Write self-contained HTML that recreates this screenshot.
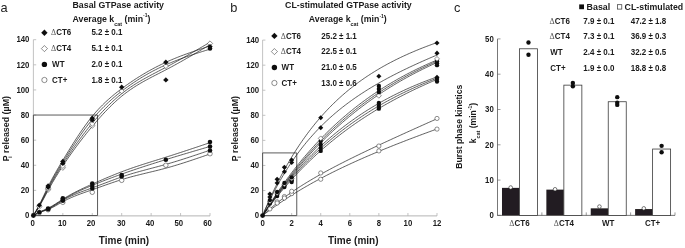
<!DOCTYPE html><html><head><meta charset="utf-8"><style>html,body{margin:0;padding:0;background:#fff;width:685px;height:248px;overflow:hidden}svg{display:block;will-change:transform}text{font-family:'Liberation Sans',sans-serif;}</style></head><body>
<svg width="685" height="248" viewBox="0 0 685 248">
<defs><filter id="bl" x="0" y="0" width="685" height="248" filterUnits="userSpaceOnUse"><feGaussianBlur stdDeviation="0.4"/></filter></defs><g filter="url(#bl)"><rect width="685" height="248" fill="#fff"/>
<text transform="translate(0.50,11.70) scale(1,1.02)" font-size="12.8" font-weight="normal" text-anchor="start" fill="#222">a</text>
<text transform="translate(72.50,7.60) scale(1,1.045)" font-size="8.8" font-weight="bold" text-anchor="start" fill="#1a1a1a">Basal GTPase activity</text>
<text transform="translate(72.50,21.50) scale(1,1.045)" font-size="8.8" font-weight="bold" text-anchor="start" fill="#1a1a1a">Average k<tspan font-size="5.4" dy="4.1">cat</tspan><tspan dy="-4.1"> (min</tspan><tspan font-size="5.0" dy="-3.9">-1</tspan><tspan dy="3.9">)</tspan></text>
<path d="M44.40,29.62L47.58,32.80L44.40,35.98L41.22,32.80Z" fill="#111"/>
<text transform="translate(51.00,35.40) scale(1,1.045)" font-size="8.0" font-weight="bold" text-anchor="start" fill="#1a1a1a"><tspan font-family="Liberation Serif" font-weight="normal" fill="#555">Δ</tspan>CT6</text>
<text transform="translate(91.40,35.40) scale(1,1.045)" font-size="8.0" font-weight="bold" text-anchor="start" fill="#1a1a1a">5.2 ± 0.1</text>
<path d="M44.40,45.53L47.47,48.60L44.40,51.67L41.33,48.60Z" fill="#fff" stroke="#333" stroke-width="0.55"/>
<text transform="translate(51.00,51.20) scale(1,1.045)" font-size="8.0" font-weight="bold" text-anchor="start" fill="#1a1a1a"><tspan font-family="Liberation Serif" font-weight="normal" fill="#555">Δ</tspan>CT4</text>
<text transform="translate(91.40,51.20) scale(1,1.045)" font-size="8.0" font-weight="bold" text-anchor="start" fill="#1a1a1a">5.1 ± 0.1</text>
<circle cx="44.40" cy="64.40" r="2.70" fill="#111"/>
<text transform="translate(52.10,67.00) scale(1,1.045)" font-size="8.0" font-weight="bold" text-anchor="start" fill="#1a1a1a">WT</text>
<text transform="translate(91.40,67.00) scale(1,1.045)" font-size="8.0" font-weight="bold" text-anchor="start" fill="#1a1a1a">2.0 ± 0.1</text>
<circle cx="44.40" cy="80.00" r="2.65" fill="#fff" stroke="#333" stroke-width="0.55"/>
<text transform="translate(52.10,82.60) scale(1,1.045)" font-size="8.0" font-weight="bold" text-anchor="start" fill="#1a1a1a">CT+</text>
<text transform="translate(91.40,82.60) scale(1,1.045)" font-size="8.0" font-weight="bold" text-anchor="start" fill="#1a1a1a">1.8 ± 0.1</text>
<path d="M33.4,39.70V215.5" fill="none" stroke="#b4b4b4" stroke-width="0.8"/>
<path d="M33.1,215.9H210.0" fill="none" stroke="#b4b4b4" stroke-width="1.0"/>
<path d="M33.4,215.50h2.8" stroke="#b4b4b4" stroke-width="0.8"/>
<text transform="translate(29.40,218.25) scale(1,1.045)" font-size="7.8" font-weight="bold" text-anchor="end" fill="#1a1a1a">0</text>
<path d="M33.4,190.39h2.8" stroke="#b4b4b4" stroke-width="0.8"/>
<text transform="translate(29.40,193.14) scale(1,1.045)" font-size="7.8" font-weight="bold" text-anchor="end" fill="#1a1a1a">20</text>
<path d="M33.4,165.27h2.8" stroke="#b4b4b4" stroke-width="0.8"/>
<text transform="translate(29.40,168.02) scale(1,1.045)" font-size="7.8" font-weight="bold" text-anchor="end" fill="#1a1a1a">40</text>
<path d="M33.4,140.16h2.8" stroke="#b4b4b4" stroke-width="0.8"/>
<text transform="translate(29.40,142.91) scale(1,1.045)" font-size="7.8" font-weight="bold" text-anchor="end" fill="#1a1a1a">60</text>
<path d="M33.4,115.04h2.8" stroke="#b4b4b4" stroke-width="0.8"/>
<text transform="translate(29.40,117.79) scale(1,1.045)" font-size="7.8" font-weight="bold" text-anchor="end" fill="#1a1a1a">80</text>
<path d="M33.4,89.93h2.8" stroke="#b4b4b4" stroke-width="0.8"/>
<text transform="translate(29.40,92.68) scale(1,1.045)" font-size="7.8" font-weight="bold" text-anchor="end" fill="#1a1a1a">100</text>
<path d="M33.4,64.82h2.8" stroke="#b4b4b4" stroke-width="0.8"/>
<text transform="translate(29.40,67.57) scale(1,1.045)" font-size="7.8" font-weight="bold" text-anchor="end" fill="#1a1a1a">120</text>
<path d="M33.4,39.70h2.8" stroke="#b4b4b4" stroke-width="0.8"/>
<text transform="translate(29.40,42.45) scale(1,1.045)" font-size="7.8" font-weight="bold" text-anchor="end" fill="#1a1a1a">140</text>
<path d="M33.40,215.9v-2.9" stroke="#b4b4b4" stroke-width="0.8"/>
<text transform="translate(32.60,226.20) scale(1,1.045)" font-size="7.8" font-weight="bold" text-anchor="middle" fill="#1a1a1a">0</text>
<path d="M62.83,215.9v-2.9" stroke="#b4b4b4" stroke-width="0.8"/>
<text transform="translate(62.30,226.20) scale(1,1.045)" font-size="7.8" font-weight="bold" text-anchor="middle" fill="#1a1a1a">10</text>
<path d="M92.27,215.9v-2.9" stroke="#b4b4b4" stroke-width="0.8"/>
<text transform="translate(91.00,226.20) scale(1,1.045)" font-size="7.8" font-weight="bold" text-anchor="middle" fill="#1a1a1a">20</text>
<path d="M121.70,215.9v-2.9" stroke="#b4b4b4" stroke-width="0.8"/>
<text transform="translate(121.30,226.20) scale(1,1.045)" font-size="7.8" font-weight="bold" text-anchor="middle" fill="#1a1a1a">30</text>
<path d="M151.13,215.9v-2.9" stroke="#b4b4b4" stroke-width="0.8"/>
<text transform="translate(150.00,226.20) scale(1,1.045)" font-size="7.8" font-weight="bold" text-anchor="middle" fill="#1a1a1a">40</text>
<path d="M180.57,215.9v-2.9" stroke="#b4b4b4" stroke-width="0.8"/>
<text transform="translate(178.80,226.20) scale(1,1.045)" font-size="7.8" font-weight="bold" text-anchor="middle" fill="#1a1a1a">50</text>
<path d="M210.00,215.9v-2.9" stroke="#b4b4b4" stroke-width="0.8"/>
<text transform="translate(207.50,226.20) scale(1,1.045)" font-size="7.8" font-weight="bold" text-anchor="middle" fill="#1a1a1a">60</text>
<text transform="translate(124.00,244.40) scale(1,1.0)" font-size="10" font-weight="bold" text-anchor="middle" fill="#1a1a1a">Time (min)</text>
<text transform="translate(8.60,161.30) rotate(-90) scale(1,1.045)" font-size="8.9" font-weight="bold" text-anchor="start" fill="#1a1a1a">P<tspan font-size="5.6" dx="-2.6" dy="3.0">i</tspan><tspan dx="1.0" dy="-3.0"> released (µM)</tspan></text>
<path d="M33.4,215.5V115.04H97.56V215.5Z" fill="none" stroke="#484848" stroke-width="0.9"/>
<polyline points="33.40,215.50 34.87,213.33 36.34,211.12 37.81,208.84 39.29,206.46 40.76,203.94 42.23,201.31 43.70,198.61 45.17,195.86 46.64,193.11 48.12,190.39 49.59,187.71 51.06,185.10 52.53,182.54 54.00,180.03 55.47,177.57 56.95,175.16 58.42,172.79 59.89,170.46 61.36,168.16 62.83,165.90 64.30,163.67 65.78,161.47 67.25,159.30 68.72,157.16 70.19,155.05 71.66,152.96 73.13,150.90 74.61,148.87 76.08,146.87 77.55,144.89 79.02,142.93 80.49,141.00 81.97,139.09 83.44,137.21 84.91,135.35 86.38,133.50 87.85,131.68 89.32,129.89 90.79,128.11 92.27,126.35 93.74,124.60 95.21,122.88 96.68,121.18 98.15,119.50 99.62,117.84 101.10,116.21 102.57,114.59 104.04,113.01 105.51,111.45 106.98,109.91 108.46,108.40 109.93,106.92 111.40,105.47 112.87,104.05 114.34,102.66 115.81,101.31 117.28,99.98 118.76,98.69 120.23,97.43 121.70,96.21 123.17,95.02 124.64,93.87 126.11,92.75 127.59,91.66 129.06,90.61 130.53,89.58 132.00,88.58 133.47,87.60 134.94,86.65 136.42,85.72 137.89,84.82 139.36,83.93 140.83,83.07 142.30,82.22 143.78,81.39 145.25,80.57 146.72,79.76 148.19,78.97 149.66,78.19 151.13,77.41 152.60,76.64 154.08,75.88 155.55,75.13 157.02,74.37 158.49,73.62 159.96,72.87 161.44,72.12 162.91,71.36 164.38,70.60 165.85,69.84 167.32,69.07 168.79,68.29 170.26,67.50 171.74,66.71 173.21,65.92 174.68,65.11 176.15,64.31 177.62,63.49 179.09,62.67 180.57,61.85 182.04,61.02 183.51,60.19 184.98,59.35 186.45,58.51 187.93,57.67 189.40,56.82 190.87,55.97 192.34,55.12 193.81,54.26 195.28,53.40 196.75,52.54 198.23,51.68 199.70,50.81 201.17,49.95 202.64,49.08 204.11,48.21 205.59,47.34 207.06,46.47 208.53,45.60 210.00,44.72" fill="none" stroke="#1a1a1a" stroke-width="0.7"/>
<polyline points="33.40,215.50 34.87,213.21 36.34,210.88 37.81,208.47 39.29,205.96 40.76,203.31 42.23,200.54 43.70,197.71 45.17,194.84 46.64,191.96 48.12,189.13 49.59,186.36 51.06,183.67 52.53,181.04 54.00,178.46 55.47,175.95 56.95,173.48 58.42,171.06 59.89,168.68 61.36,166.33 62.83,164.02 64.30,161.73 65.78,159.46 67.25,157.22 68.72,155.01 70.19,152.82 71.66,150.66 73.13,148.53 74.61,146.42 76.08,144.33 77.55,142.28 79.02,140.25 80.49,138.25 81.97,136.27 83.44,134.32 84.91,132.40 86.38,130.51 87.85,128.64 89.32,126.80 90.79,124.99 92.27,123.21 93.74,121.45 95.21,119.72 96.68,118.03 98.15,116.36 99.62,114.72 101.10,113.10 102.57,111.52 104.04,109.97 105.51,108.44 106.98,106.95 108.46,105.49 109.93,104.05 111.40,102.65 112.87,101.28 114.34,99.94 115.81,98.63 117.28,97.35 118.76,96.10 120.23,94.88 121.70,93.70 123.17,92.54 124.64,91.42 126.11,90.33 127.59,89.26 129.06,88.23 130.53,87.21 132.00,86.23 133.47,85.26 134.94,84.32 136.42,83.39 137.89,82.49 139.36,81.61 140.83,80.74 142.30,79.89 143.78,79.05 145.25,78.22 146.72,77.41 148.19,76.60 149.66,75.81 151.13,75.03 152.60,74.25 154.08,73.47 155.55,72.70 157.02,71.94 158.49,71.17 159.96,70.41 161.44,69.64 162.91,68.87 164.38,68.10 165.85,67.33 167.32,66.55 168.79,65.76 170.26,64.97 171.74,64.17 173.21,63.37 174.68,62.56 176.15,61.75 177.62,60.93 179.09,60.11 180.57,59.28 182.04,58.45 183.51,57.62 184.98,56.78 186.45,55.94 187.93,55.10 189.40,54.26 190.87,53.41 192.34,52.56 193.81,51.70 195.28,50.85 196.75,49.99 198.23,49.13 199.70,48.27 201.17,47.41 202.64,46.54 204.11,45.68 205.59,44.81 207.06,43.95 208.53,43.08 210.00,42.21" fill="none" stroke="#1a1a1a" stroke-width="0.7"/>
<polyline points="33.40,215.50 34.87,213.08 36.34,210.63 37.81,208.10 39.29,205.45 40.76,202.67 42.23,199.77 43.70,196.80 45.17,193.80 46.64,190.81 48.12,187.87 49.59,185.02 51.06,182.25 52.53,179.55 54.00,176.92 55.47,174.35 56.95,171.83 58.42,169.36 59.89,166.93 61.36,164.52 62.83,162.13 64.30,159.76 65.78,157.41 67.25,155.07 68.72,152.75 70.19,150.45 71.66,148.17 73.13,145.91 74.61,143.68 76.08,141.48 77.55,139.30 79.02,137.15 80.49,135.04 81.97,132.95 83.44,130.91 84.91,128.90 86.38,126.92 87.85,124.99 89.32,123.09 90.79,121.24 92.27,119.44 93.74,117.68 95.21,115.96 96.68,114.29 98.15,112.66 99.62,111.07 101.10,109.52 102.57,108.01 104.04,106.53 105.51,105.09 106.98,103.69 108.46,102.31 109.93,100.97 111.40,99.66 112.87,98.37 114.34,97.12 115.81,95.88 117.28,94.68 118.76,93.49 120.23,92.33 121.70,91.19 123.17,90.06 124.64,88.96 126.11,87.87 127.59,86.80 129.06,85.75 130.53,84.72 132.00,83.71 133.47,82.71 134.94,81.73 136.42,80.77 137.89,79.82 139.36,78.89 140.83,77.98 142.30,77.08 143.78,76.20 145.25,75.34 146.72,74.49 148.19,73.66 149.66,72.84 151.13,72.04 152.60,71.25 154.08,70.48 155.55,69.72 157.02,68.98 158.49,68.25 159.96,67.54 161.44,66.84 162.91,66.15 164.38,65.48 165.85,64.82 167.32,64.17 168.79,63.53 170.26,62.91 171.74,62.30 173.21,61.70 174.68,61.11 176.15,60.53 177.62,59.97 179.09,59.41 180.57,58.86 182.04,58.32 183.51,57.78 184.98,57.26 186.45,56.74 187.93,56.23 189.40,55.73 190.87,55.23 192.34,54.74 193.81,54.25 195.28,53.77 196.75,53.29 198.23,52.82 199.70,52.35 201.17,51.88 202.64,51.42 204.11,50.96 205.59,50.50 207.06,50.04 208.53,49.58 210.00,49.12" fill="none" stroke="#1a1a1a" stroke-width="0.7"/>
<polyline points="33.40,215.50 34.87,212.92 36.34,210.30 37.81,207.62 39.29,204.83 40.76,201.91 42.23,198.89 43.70,195.82 45.17,192.72 46.64,189.64 48.12,186.62 49.59,183.69 51.06,180.85 52.53,178.08 54.00,175.39 55.47,172.76 56.95,170.19 58.42,167.66 59.89,165.17 61.36,162.70 62.83,160.25 64.30,157.81 65.78,155.38 67.25,152.97 68.72,150.58 70.19,148.20 71.66,145.84 73.13,143.51 74.61,141.20 76.08,138.92 77.55,136.66 79.02,134.45 80.49,132.26 81.97,130.11 83.44,128.00 84.91,125.94 86.38,123.91 87.85,121.94 89.32,120.01 90.79,118.13 92.27,116.30 93.74,114.53 95.21,112.81 96.68,111.14 98.15,109.52 99.62,107.95 101.10,106.42 102.57,104.94 104.04,103.50 105.51,102.09 106.98,100.73 108.46,99.40 109.93,98.10 111.40,96.83 112.87,95.60 114.34,94.39 115.81,93.20 117.28,92.04 118.76,90.90 120.23,89.78 121.70,88.67 123.17,87.59 124.64,86.51 126.11,85.45 127.59,84.41 129.06,83.38 130.53,82.37 132.00,81.37 133.47,80.39 134.94,79.42 136.42,78.46 137.89,77.52 139.36,76.60 140.83,75.69 142.30,74.79 143.78,73.90 145.25,73.04 146.72,72.18 148.19,71.34 149.66,70.51 151.13,69.70 152.60,68.90 154.08,68.11 155.55,67.34 157.02,66.58 158.49,65.84 159.96,65.10 161.44,64.38 162.91,63.68 164.38,62.98 165.85,62.30 167.32,61.64 168.79,60.98 170.26,60.34 171.74,59.71 173.21,59.09 174.68,58.48 176.15,57.88 177.62,57.29 179.09,56.71 180.57,56.14 182.04,55.58 183.51,55.03 184.98,54.48 186.45,53.95 187.93,53.42 189.40,52.89 190.87,52.37 192.34,51.86 193.81,51.35 195.28,50.85 196.75,50.35 198.23,49.85 199.70,49.36 201.17,48.87 202.64,48.39 204.11,47.90 205.59,47.42 207.06,46.94 208.53,46.46 210.00,45.98" fill="none" stroke="#1a1a1a" stroke-width="0.7"/>
<polyline points="33.40,215.50 34.87,214.64 36.34,213.80 37.81,213.00 39.29,212.24 40.76,211.53 42.23,210.87 43.70,210.23 45.17,209.59 46.64,208.92 48.12,208.22 49.59,207.45 51.06,206.63 52.53,205.77 54.00,204.87 55.47,203.94 56.95,202.99 58.42,202.03 59.89,201.07 61.36,200.11 62.83,199.18 64.30,198.26 65.78,197.37 67.25,196.50 68.72,195.66 70.19,194.83 71.66,194.02 73.13,193.23 74.61,192.46 76.08,191.71 77.55,190.96 79.02,190.24 80.49,189.52 81.97,188.82 83.44,188.12 84.91,187.44 86.38,186.76 87.85,186.09 89.32,185.42 90.79,184.76 92.27,184.11 93.74,183.45 95.21,182.80 96.68,182.15 98.15,181.50 99.62,180.86 101.10,180.22 102.57,179.59 104.04,178.95 105.51,178.33 106.98,177.70 108.46,177.08 109.93,176.47 111.40,175.86 112.87,175.26 114.34,174.66 115.81,174.07 117.28,173.49 118.76,172.91 120.23,172.34 121.70,171.78 123.17,171.22 124.64,170.67 126.11,170.13 127.59,169.60 129.06,169.07 130.53,168.55 132.00,168.04 133.47,167.53 134.94,167.03 136.42,166.54 137.89,166.05 139.36,165.56 140.83,165.08 142.30,164.60 143.78,164.13 145.25,163.66 146.72,163.19 148.19,162.73 149.66,162.27 151.13,161.80 152.60,161.34 154.08,160.89 155.55,160.43 157.02,159.97 158.49,159.51 159.96,159.05 161.44,158.59 162.91,158.13 164.38,157.67 165.85,157.21 167.32,156.74 168.79,156.27 170.26,155.81 171.74,155.33 173.21,154.86 174.68,154.39 176.15,153.91 177.62,153.43 179.09,152.95 180.57,152.47 182.04,151.99 183.51,151.51 184.98,151.02 186.45,150.54 187.93,150.05 189.40,149.56 190.87,149.07 192.34,148.59 193.81,148.10 195.28,147.60 196.75,147.11 198.23,146.62 199.70,146.13 201.17,145.63 202.64,145.14 204.11,144.65 205.59,144.15 207.06,143.66 208.53,143.16 210.00,142.67" fill="none" stroke="#1a1a1a" stroke-width="0.7"/>
<polyline points="33.40,215.50 34.87,214.67 36.34,213.86 37.81,213.09 39.29,212.36 40.76,211.70 42.23,211.08 43.70,210.48 45.17,209.88 46.64,209.26 48.12,208.59 49.59,207.87 51.06,207.08 52.53,206.24 54.00,205.37 55.47,204.46 56.95,203.54 58.42,202.60 59.89,201.66 61.36,200.72 62.83,199.80 64.30,198.91 65.78,198.04 67.25,197.19 68.72,196.37 70.19,195.56 71.66,194.78 73.13,194.02 74.61,193.27 76.08,192.54 77.55,191.83 79.02,191.13 80.49,190.45 81.97,189.78 83.44,189.12 84.91,188.47 86.38,187.84 87.85,187.21 89.32,186.59 90.79,185.97 92.27,185.36 93.74,184.76 95.21,184.16 96.68,183.57 98.15,182.98 99.62,182.39 101.10,181.81 102.57,181.23 104.04,180.66 105.51,180.09 106.98,179.53 108.46,178.97 109.93,178.41 111.40,177.86 112.87,177.31 114.34,176.77 115.81,176.23 117.28,175.69 118.76,175.16 120.23,174.63 121.70,174.10 123.17,173.58 124.64,173.06 126.11,172.54 127.59,172.03 129.06,171.52 130.53,171.01 132.00,170.51 133.47,170.01 134.94,169.51 136.42,169.01 137.89,168.52 139.36,168.03 140.83,167.55 142.30,167.06 143.78,166.58 145.25,166.10 146.72,165.62 148.19,165.15 149.66,164.68 151.13,164.21 152.60,163.74 154.08,163.27 155.55,162.81 157.02,162.34 158.49,161.88 159.96,161.42 161.44,160.96 162.91,160.51 164.38,160.05 165.85,159.60 167.32,159.15 168.79,158.70 170.26,158.25 171.74,157.80 173.21,157.35 174.68,156.91 176.15,156.46 177.62,156.02 179.09,155.58 180.57,155.14 182.04,154.70 183.51,154.26 184.98,153.82 186.45,153.38 187.93,152.94 189.40,152.50 190.87,152.07 192.34,151.63 193.81,151.20 195.28,150.76 196.75,150.33 198.23,149.90 199.70,149.46 201.17,149.03 202.64,148.60 204.11,148.16 205.59,147.73 207.06,147.30 208.53,146.87 210.00,146.44" fill="none" stroke="#1a1a1a" stroke-width="0.7"/>
<polyline points="33.40,215.50 34.87,214.70 36.34,213.91 37.81,213.17 39.29,212.49 40.76,211.88 42.23,211.32 43.70,210.80 45.17,210.27 46.64,209.71 48.12,209.10 49.59,208.40 51.06,207.64 52.53,206.82 54.00,205.95 55.47,205.04 56.95,204.11 58.42,203.18 59.89,202.24 61.36,201.32 62.83,200.43 64.30,199.58 65.78,198.76 67.25,197.98 68.72,197.23 70.19,196.51 71.66,195.83 73.13,195.16 74.61,194.52 76.08,193.91 77.55,193.31 79.02,192.73 80.49,192.16 81.97,191.61 83.44,191.06 84.91,190.53 86.38,189.99 87.85,189.47 89.32,188.94 90.79,188.41 92.27,187.87 93.74,187.34 95.21,186.79 96.68,186.24 98.15,185.69 99.62,185.13 101.10,184.57 102.57,184.01 104.04,183.45 105.51,182.89 106.98,182.33 108.46,181.77 109.93,181.21 111.40,180.66 112.87,180.11 114.34,179.57 115.81,179.03 117.28,178.49 118.76,177.97 120.23,177.45 121.70,176.94 123.17,176.44 124.64,175.95 126.11,175.47 127.59,174.99 129.06,174.53 130.53,174.08 132.00,173.64 133.47,173.20 134.94,172.78 136.42,172.36 137.89,171.94 139.36,171.53 140.83,171.13 142.30,170.72 143.78,170.33 145.25,169.93 146.72,169.54 148.19,169.15 149.66,168.76 151.13,168.37 152.60,167.99 154.08,167.60 155.55,167.21 157.02,166.82 158.49,166.42 159.96,166.02 161.44,165.62 162.91,165.22 164.38,164.81 165.85,164.39 167.32,163.97 168.79,163.55 170.26,163.12 171.74,162.68 173.21,162.24 174.68,161.79 176.15,161.35 177.62,160.89 179.09,160.43 180.57,159.97 182.04,159.51 183.51,159.04 184.98,158.56 186.45,158.09 187.93,157.61 189.40,157.13 190.87,156.64 192.34,156.16 193.81,155.67 195.28,155.18 196.75,154.69 198.23,154.19 199.70,153.70 201.17,153.20 202.64,152.70 204.11,152.20 205.59,151.70 207.06,151.20 208.53,150.70 210.00,150.20" fill="none" stroke="#1a1a1a" stroke-width="0.7"/>
<polyline points="33.40,215.50 34.87,214.73 36.34,213.97 37.81,213.26 39.29,212.61 40.76,212.04 42.23,211.51 43.70,211.02 45.17,210.54 46.64,210.03 48.12,209.47 49.59,208.85 51.06,208.17 52.53,207.43 54.00,206.65 55.47,205.84 56.95,205.01 58.42,204.17 59.89,203.33 61.36,202.50 62.83,201.69 64.30,200.91 65.78,200.16 67.25,199.44 68.72,198.74 70.19,198.07 71.66,197.42 73.13,196.79 74.61,196.19 76.08,195.60 77.55,195.02 79.02,194.46 80.49,193.91 81.97,193.38 83.44,192.85 84.91,192.32 86.38,191.81 87.85,191.29 89.32,190.78 90.79,190.27 92.27,189.76 93.74,189.24 95.21,188.72 96.68,188.20 98.15,187.68 99.62,187.15 101.10,186.63 102.57,186.10 104.04,185.58 105.51,185.06 106.98,184.54 108.46,184.02 109.93,183.51 111.40,183.00 112.87,182.49 114.34,182.00 115.81,181.50 117.28,181.02 118.76,180.54 120.23,180.07 121.70,179.60 123.17,179.15 124.64,178.71 126.11,178.28 127.59,177.85 129.06,177.44 130.53,177.03 132.00,176.64 133.47,176.25 134.94,175.86 136.42,175.49 137.89,175.11 139.36,174.75 140.83,174.38 142.30,174.02 143.78,173.66 145.25,173.31 146.72,172.95 148.19,172.60 149.66,172.25 151.13,171.89 152.60,171.54 154.08,171.18 155.55,170.82 157.02,170.46 158.49,170.09 159.96,169.72 161.44,169.34 162.91,168.96 164.38,168.57 165.85,168.17 167.32,167.77 168.79,167.36 170.26,166.94 171.74,166.52 173.21,166.08 174.68,165.65 176.15,165.21 177.62,164.76 179.09,164.30 180.57,163.84 182.04,163.38 183.51,162.91 184.98,162.44 186.45,161.96 187.93,161.48 189.40,161.00 190.87,160.51 192.34,160.02 193.81,159.53 195.28,159.03 196.75,158.53 198.23,158.03 199.70,157.53 201.17,157.02 202.64,156.52 204.11,156.01 205.59,155.50 207.06,154.99 208.53,154.48 210.00,153.97" fill="none" stroke="#1a1a1a" stroke-width="0.7"/>
<path d="M39.29,204.10L41.90,206.71L39.29,209.32L36.68,206.71Z" fill="#fff" stroke="#333" stroke-width="0.55"/>
<path d="M39.29,202.50L41.99,205.20L39.29,207.90L36.59,205.20Z" fill="#111"/>
<path d="M48.12,187.15L50.73,189.76L48.12,192.37L45.51,189.76Z" fill="#fff" stroke="#333" stroke-width="0.55"/>
<path d="M48.12,185.89L50.73,188.50L48.12,191.11L45.51,188.50Z" fill="#fff" stroke="#333" stroke-width="0.55"/>
<path d="M48.12,184.55L50.82,187.25L48.12,189.95L45.42,187.25Z" fill="#111"/>
<path d="M48.12,183.29L50.82,185.99L48.12,188.69L45.42,185.99Z" fill="#111"/>
<path d="M62.83,165.17L65.44,167.78L62.83,170.39L60.22,167.78Z" fill="#fff" stroke="#333" stroke-width="0.55"/>
<path d="M62.83,163.29L65.44,165.90L62.83,168.51L60.22,165.90Z" fill="#fff" stroke="#333" stroke-width="0.55"/>
<path d="M62.83,160.69L65.53,163.39L62.83,166.09L60.13,163.39Z" fill="#111"/>
<path d="M62.83,158.80L65.53,161.50L62.83,164.20L60.13,161.50Z" fill="#111"/>
<path d="M92.27,123.11L94.88,125.72L92.27,128.33L89.66,125.72Z" fill="#fff" stroke="#333" stroke-width="0.55"/>
<path d="M92.27,121.22L94.88,123.83L92.27,126.44L89.66,123.83Z" fill="#fff" stroke="#333" stroke-width="0.55"/>
<path d="M92.27,117.37L94.97,120.07L92.27,122.77L89.57,120.07Z" fill="#111"/>
<path d="M92.27,115.48L94.97,118.18L92.27,120.88L89.57,118.18Z" fill="#111"/>
<path d="M121.70,88.58L124.31,91.19L121.70,93.80L119.09,91.19Z" fill="#fff" stroke="#333" stroke-width="0.55"/>
<path d="M121.70,84.47L124.40,87.17L121.70,89.87L119.00,87.17Z" fill="#111"/>
<path d="M165.85,63.46L168.46,66.07L165.85,68.68L163.24,66.07Z" fill="#fff" stroke="#333" stroke-width="0.55"/>
<path d="M165.85,59.60L168.55,62.30L165.85,65.00L163.15,62.30Z" fill="#111"/>
<path d="M165.85,77.18L168.55,79.88L165.85,82.58L163.15,79.88Z" fill="#111"/>
<path d="M210.00,40.86L212.61,43.47L210.00,46.08L207.39,43.47Z" fill="#fff" stroke="#333" stroke-width="0.55"/>
<path d="M210.00,43.91L212.70,46.61L210.00,49.31L207.30,46.61Z" fill="#111"/>
<circle cx="210.00" cy="48.49" r="2.29" fill="#111"/>
<circle cx="39.29" cy="212.74" r="2.25" fill="#fff" stroke="#333" stroke-width="0.55"/>
<circle cx="39.29" cy="212.24" r="2.29" fill="#111"/>
<circle cx="48.12" cy="209.72" r="2.25" fill="#fff" stroke="#333" stroke-width="0.55"/>
<circle cx="48.12" cy="209.22" r="2.29" fill="#111"/>
<circle cx="48.12" cy="208.59" r="2.29" fill="#111"/>
<circle cx="62.83" cy="202.32" r="2.25" fill="#fff" stroke="#333" stroke-width="0.55"/>
<circle cx="62.83" cy="200.68" r="2.29" fill="#111"/>
<circle cx="62.83" cy="199.43" r="2.29" fill="#111"/>
<circle cx="62.83" cy="198.17" r="2.29" fill="#111"/>
<circle cx="92.27" cy="192.27" r="2.25" fill="#fff" stroke="#333" stroke-width="0.55"/>
<circle cx="92.27" cy="188.50" r="2.29" fill="#111"/>
<circle cx="92.27" cy="185.99" r="2.29" fill="#111"/>
<circle cx="92.27" cy="183.48" r="2.29" fill="#111"/>
<circle cx="121.70" cy="180.34" r="2.25" fill="#fff" stroke="#333" stroke-width="0.55"/>
<circle cx="121.70" cy="176.57" r="2.29" fill="#111"/>
<circle cx="121.70" cy="175.07" r="2.29" fill="#111"/>
<circle cx="165.85" cy="165.27" r="2.25" fill="#fff" stroke="#333" stroke-width="0.55"/>
<circle cx="165.85" cy="159.75" r="2.29" fill="#111"/>
<circle cx="210.00" cy="153.72" r="2.25" fill="#fff" stroke="#333" stroke-width="0.55"/>
<circle cx="210.00" cy="150.45" r="2.29" fill="#111"/>
<circle cx="210.00" cy="146.44" r="2.29" fill="#111"/>
<circle cx="210.00" cy="142.04" r="2.29" fill="#111"/>
<circle cx="33.40" cy="215.50" r="2.42" fill="#111"/>
<text transform="translate(230.20,11.70) scale(1,1.0)" font-size="12.8" font-weight="normal" text-anchor="start" fill="#222">b</text>
<text transform="translate(348.40,7.90) scale(1,1.045)" font-size="8.8" font-weight="bold" text-anchor="middle" fill="#1a1a1a">CL-stimulated GTPase activity</text>
<text transform="translate(347.80,22.10) scale(1,1.045)" font-size="8.8" font-weight="bold" text-anchor="middle" fill="#1a1a1a">Average k<tspan font-size="5.4" dy="4.1">cat</tspan><tspan dy="-4.1"> (min</tspan><tspan font-size="5.0" dy="-3.9">-1</tspan><tspan dy="3.9">)</tspan></text>
<path d="M274.40,32.72L277.58,35.90L274.40,39.08L271.22,35.90Z" fill="#111"/>
<text transform="translate(280.80,38.60) scale(1,1.045)" font-size="8.0" font-weight="bold" text-anchor="start" fill="#1a1a1a"><tspan font-family="Liberation Serif" font-weight="normal" fill="#555">Δ</tspan>CT6</text>
<text transform="translate(321.30,38.60) scale(1,1.045)" font-size="8.0" font-weight="bold" text-anchor="start" fill="#1a1a1a">25.2 ± 1.1</text>
<path d="M274.40,48.53L277.47,51.60L274.40,54.67L271.33,51.60Z" fill="#fff" stroke="#333" stroke-width="0.55"/>
<text transform="translate(280.80,54.30) scale(1,1.045)" font-size="8.0" font-weight="bold" text-anchor="start" fill="#1a1a1a"><tspan font-family="Liberation Serif" font-weight="normal" fill="#555">Δ</tspan>CT4</text>
<text transform="translate(321.30,54.30) scale(1,1.045)" font-size="8.0" font-weight="bold" text-anchor="start" fill="#1a1a1a">22.5 ± 0.1</text>
<circle cx="274.40" cy="67.50" r="2.70" fill="#111"/>
<text transform="translate(281.60,70.20) scale(1,1.045)" font-size="8.0" font-weight="bold" text-anchor="start" fill="#1a1a1a">WT</text>
<text transform="translate(321.30,70.20) scale(1,1.045)" font-size="8.0" font-weight="bold" text-anchor="start" fill="#1a1a1a">21.0 ± 0.5</text>
<circle cx="274.40" cy="83.00" r="2.65" fill="#fff" stroke="#333" stroke-width="0.55"/>
<text transform="translate(281.60,85.70) scale(1,1.045)" font-size="8.0" font-weight="bold" text-anchor="start" fill="#1a1a1a">CT+</text>
<text transform="translate(321.30,85.70) scale(1,1.045)" font-size="8.0" font-weight="bold" text-anchor="start" fill="#1a1a1a">13.0 ± 0.6</text>
<path d="M262.6,40.10V215.6" fill="none" stroke="#b4b4b4" stroke-width="0.8"/>
<path d="M262.3,215.9H437.0" fill="none" stroke="#b4b4b4" stroke-width="1.0"/>
<path d="M262.6,215.60h2.8" stroke="#b4b4b4" stroke-width="0.8"/>
<text transform="translate(259.20,218.35) scale(1,1.045)" font-size="7.8" font-weight="bold" text-anchor="end" fill="#1a1a1a">0</text>
<path d="M262.6,190.53h2.8" stroke="#b4b4b4" stroke-width="0.8"/>
<text transform="translate(259.20,193.28) scale(1,1.045)" font-size="7.8" font-weight="bold" text-anchor="end" fill="#1a1a1a">20</text>
<path d="M262.6,165.46h2.8" stroke="#b4b4b4" stroke-width="0.8"/>
<text transform="translate(259.20,168.21) scale(1,1.045)" font-size="7.8" font-weight="bold" text-anchor="end" fill="#1a1a1a">40</text>
<path d="M262.6,140.38h2.8" stroke="#b4b4b4" stroke-width="0.8"/>
<text transform="translate(259.20,143.13) scale(1,1.045)" font-size="7.8" font-weight="bold" text-anchor="end" fill="#1a1a1a">60</text>
<path d="M262.6,115.31h2.8" stroke="#b4b4b4" stroke-width="0.8"/>
<text transform="translate(259.20,118.06) scale(1,1.045)" font-size="7.8" font-weight="bold" text-anchor="end" fill="#1a1a1a">80</text>
<path d="M262.6,90.24h2.8" stroke="#b4b4b4" stroke-width="0.8"/>
<text transform="translate(259.20,92.99) scale(1,1.045)" font-size="7.8" font-weight="bold" text-anchor="end" fill="#1a1a1a">100</text>
<path d="M262.6,65.17h2.8" stroke="#b4b4b4" stroke-width="0.8"/>
<text transform="translate(259.20,67.92) scale(1,1.045)" font-size="7.8" font-weight="bold" text-anchor="end" fill="#1a1a1a">120</text>
<path d="M262.6,40.10h2.8" stroke="#b4b4b4" stroke-width="0.8"/>
<text transform="translate(259.20,42.85) scale(1,1.045)" font-size="7.8" font-weight="bold" text-anchor="end" fill="#1a1a1a">140</text>
<path d="M262.60,215.9v-2.9" stroke="#b4b4b4" stroke-width="0.8"/>
<text transform="translate(262.60,225.90) scale(1,1.045)" font-size="7.8" font-weight="bold" text-anchor="middle" fill="#1a1a1a">0</text>
<path d="M291.67,215.9v-2.9" stroke="#b4b4b4" stroke-width="0.8"/>
<text transform="translate(291.67,225.90) scale(1,1.045)" font-size="7.8" font-weight="bold" text-anchor="middle" fill="#1a1a1a">2</text>
<path d="M320.73,215.9v-2.9" stroke="#b4b4b4" stroke-width="0.8"/>
<text transform="translate(320.73,225.90) scale(1,1.045)" font-size="7.8" font-weight="bold" text-anchor="middle" fill="#1a1a1a">4</text>
<path d="M349.80,215.9v-2.9" stroke="#b4b4b4" stroke-width="0.8"/>
<text transform="translate(349.80,225.90) scale(1,1.045)" font-size="7.8" font-weight="bold" text-anchor="middle" fill="#1a1a1a">6</text>
<path d="M378.87,215.9v-2.9" stroke="#b4b4b4" stroke-width="0.8"/>
<text transform="translate(378.87,225.90) scale(1,1.045)" font-size="7.8" font-weight="bold" text-anchor="middle" fill="#1a1a1a">8</text>
<path d="M407.93,215.9v-2.9" stroke="#b4b4b4" stroke-width="0.8"/>
<text transform="translate(407.93,225.90) scale(1,1.045)" font-size="7.8" font-weight="bold" text-anchor="middle" fill="#1a1a1a">10</text>
<path d="M437.00,215.9v-2.9" stroke="#b4b4b4" stroke-width="0.8"/>
<text transform="translate(437.00,225.90) scale(1,1.045)" font-size="7.8" font-weight="bold" text-anchor="middle" fill="#1a1a1a">12</text>
<text transform="translate(353.30,244.40) scale(1,1.0)" font-size="10" font-weight="bold" text-anchor="middle" fill="#1a1a1a">Time (min)</text>
<text transform="translate(238.20,161.30) rotate(-90) scale(1,1.045)" font-size="8.9" font-weight="bold" text-anchor="start" fill="#1a1a1a">P<tspan font-size="5.6" dx="-2.6" dy="3.0">i</tspan><tspan dx="1.0" dy="-3.0"> released (µM)</tspan></text>
<path d="M262.6,215.6V152.92H296.75V215.6Z" fill="none" stroke="#484848" stroke-width="0.9"/>
<polyline points="262.60,215.60 264.05,212.11 265.51,208.68 266.96,205.33 268.41,202.03 269.87,198.80 271.32,195.63 272.77,192.53 274.23,189.48 275.68,186.49 277.13,183.56 278.59,180.68 280.04,177.86 281.49,175.10 282.95,172.38 284.40,169.72 285.85,167.11 287.31,164.54 288.76,162.03 290.21,159.56 291.67,157.14 293.12,154.76 294.57,152.43 296.03,150.14 297.48,147.89 298.93,145.69 300.39,143.52 301.84,141.40 303.29,139.32 304.75,137.27 306.20,135.26 307.65,133.29 309.11,131.35 310.56,129.45 312.01,127.58 313.47,125.75 314.92,123.95 316.37,122.18 317.83,120.45 319.28,118.74 320.73,117.07 322.19,115.42 323.64,113.81 325.09,112.22 326.55,110.66 328.00,109.13 329.45,107.62 330.91,106.14 332.36,104.69 333.81,103.26 335.27,101.86 336.72,100.48 338.17,99.12 339.63,97.79 341.08,96.48 342.53,95.19 343.99,93.92 345.44,92.68 346.89,91.45 348.35,90.25 349.80,89.06 351.25,87.90 352.71,86.75 354.16,85.62 355.61,84.51 357.07,83.42 358.52,82.35 359.97,81.29 361.43,80.25 362.88,79.23 364.33,78.22 365.79,77.23 367.24,76.26 368.69,75.30 370.15,74.35 371.60,73.42 373.05,72.50 374.51,71.60 375.96,70.71 377.41,69.83 378.87,68.97 380.32,68.12 381.77,67.28 383.23,66.46 384.68,65.64 386.13,64.84 387.59,64.05 389.04,63.27 390.49,62.50 391.95,61.75 393.40,61.00 394.85,60.26 396.31,59.54 397.76,58.82 399.21,58.11 400.67,57.42 402.12,56.73 403.57,56.05 405.03,55.38 406.48,54.72 407.93,54.07 409.39,53.42 410.84,52.79 412.29,52.16 413.75,51.54 415.20,50.93 416.65,50.32 418.11,49.73 419.56,49.14 421.01,48.55 422.47,47.98 423.92,47.41 425.37,46.85 426.83,46.29 428.28,45.74 429.73,45.20 431.19,44.66 432.64,44.13 434.09,43.60 435.55,43.08 437.00,42.57" fill="none" stroke="#1a1a1a" stroke-width="0.7"/>
<polyline points="262.60,215.60 264.05,212.32 265.51,209.12 266.96,205.99 268.41,202.93 269.87,199.93 271.32,197.00 272.77,194.14 274.23,191.34 275.68,188.60 277.13,185.92 278.59,183.30 280.04,180.73 281.49,178.22 282.95,175.76 284.40,173.35 285.85,171.00 287.31,168.69 288.76,166.43 290.21,164.22 291.67,162.05 293.12,159.93 294.57,157.85 296.03,155.81 297.48,153.81 298.93,151.85 300.39,149.93 301.84,148.05 303.29,146.21 304.75,144.40 306.20,142.62 307.65,140.88 309.11,139.17 310.56,137.50 312.01,135.85 313.47,134.24 314.92,132.66 316.37,131.10 317.83,129.57 319.28,128.07 320.73,126.60 322.19,125.15 323.64,123.72 325.09,122.33 326.55,120.95 328.00,119.60 329.45,118.27 330.91,116.96 332.36,115.68 333.81,114.41 335.27,113.17 336.72,111.94 338.17,110.74 339.63,109.55 341.08,108.38 342.53,107.23 343.99,106.10 345.44,104.98 346.89,103.88 348.35,102.79 349.80,101.72 351.25,100.67 352.71,99.63 354.16,98.61 355.61,97.59 357.07,96.60 358.52,95.61 359.97,94.64 361.43,93.68 362.88,92.74 364.33,91.80 365.79,90.88 367.24,89.96 368.69,89.06 370.15,88.17 371.60,87.29 373.05,86.42 374.51,85.56 375.96,84.71 377.41,83.87 378.87,83.04 380.32,82.21 381.77,81.40 383.23,80.59 384.68,79.79 386.13,79.00 387.59,78.22 389.04,77.45 390.49,76.68 391.95,75.92 393.40,75.16 394.85,74.42 396.31,73.68 397.76,72.94 399.21,72.21 400.67,71.49 402.12,70.78 403.57,70.07 405.03,69.36 406.48,68.66 407.93,67.97 409.39,67.28 410.84,66.60 412.29,65.92 413.75,65.24 415.20,64.58 416.65,63.91 418.11,63.25 419.56,62.59 421.01,61.94 422.47,61.29 423.92,60.65 425.37,60.01 426.83,59.37 428.28,58.74 429.73,58.11 431.19,57.49 432.64,56.86 434.09,56.24 435.55,55.63 437.00,55.02" fill="none" stroke="#1a1a1a" stroke-width="0.7"/>
<polyline points="262.60,215.60 264.05,213.21 265.51,210.84 266.96,208.51 268.41,206.20 269.87,203.92 271.32,201.66 272.77,199.44 274.23,197.23 275.68,195.06 277.13,192.91 278.59,190.78 280.04,188.68 281.49,186.60 282.95,184.55 284.40,182.52 285.85,180.52 287.31,178.54 288.76,176.58 290.21,174.64 291.67,172.73 293.12,170.84 294.57,168.97 296.03,167.13 297.48,165.30 298.93,163.50 300.39,161.72 301.84,159.95 303.29,158.21 304.75,156.49 306.20,154.79 307.65,153.11 309.11,151.45 310.56,149.80 312.01,148.18 313.47,146.58 314.92,144.99 316.37,143.42 317.83,141.87 319.28,140.34 320.73,138.83 322.19,137.33 323.64,135.85 325.09,134.39 326.55,132.95 328.00,131.52 329.45,130.11 330.91,128.71 332.36,127.33 333.81,125.97 335.27,124.62 336.72,123.29 338.17,121.97 339.63,120.67 341.08,119.38 342.53,118.11 343.99,116.85 345.44,115.61 346.89,114.38 348.35,113.16 349.80,111.96 351.25,110.78 352.71,109.60 354.16,108.44 355.61,107.30 357.07,106.16 358.52,105.04 359.97,103.93 361.43,102.84 362.88,101.76 364.33,100.68 365.79,99.63 367.24,98.58 368.69,97.55 370.15,96.52 371.60,95.51 373.05,94.51 374.51,93.52 375.96,92.55 377.41,91.58 378.87,90.63 380.32,89.68 381.77,88.75 383.23,87.83 384.68,86.91 386.13,86.01 387.59,85.12 389.04,84.24 390.49,83.36 391.95,82.50 393.40,81.65 394.85,80.81 396.31,79.97 397.76,79.15 399.21,78.33 400.67,77.53 402.12,76.73 403.57,75.94 405.03,75.16 406.48,74.39 407.93,73.63 409.39,72.88 410.84,72.13 412.29,71.39 413.75,70.66 415.20,69.94 416.65,69.23 418.11,68.53 419.56,67.83 421.01,67.14 422.47,66.46 423.92,65.78 425.37,65.12 426.83,64.46 428.28,63.81 429.73,63.16 431.19,62.52 432.64,61.89 434.09,61.27 435.55,60.65 437.00,60.04" fill="none" stroke="#1a1a1a" stroke-width="0.7"/>
<polyline points="262.60,215.60 264.05,213.31 265.51,211.04 266.96,208.80 268.41,206.59 269.87,204.40 271.32,202.23 272.77,200.08 274.23,197.96 275.68,195.86 277.13,193.79 278.59,191.73 280.04,189.70 281.49,187.70 282.95,185.71 284.40,183.74 285.85,181.80 287.31,179.88 288.76,177.97 290.21,176.09 291.67,174.23 293.12,172.39 294.57,170.57 296.03,168.77 297.48,166.99 298.93,165.23 300.39,163.48 301.84,161.76 303.29,160.05 304.75,158.37 306.20,156.70 307.65,155.05 309.11,153.41 310.56,151.80 312.01,150.20 313.47,148.62 314.92,147.06 316.37,145.51 317.83,143.98 319.28,142.47 320.73,140.97 322.19,139.49 323.64,138.03 325.09,136.58 326.55,135.14 328.00,133.73 329.45,132.32 330.91,130.94 332.36,129.56 333.81,128.21 335.27,126.86 336.72,125.54 338.17,124.22 339.63,122.92 341.08,121.64 342.53,120.36 343.99,119.11 345.44,117.86 346.89,116.63 348.35,115.41 349.80,114.21 351.25,113.02 352.71,111.84 354.16,110.67 355.61,109.52 357.07,108.38 358.52,107.25 359.97,106.13 361.43,105.03 362.88,103.93 364.33,102.85 365.79,101.78 367.24,100.72 368.69,99.68 370.15,98.64 371.60,97.62 373.05,96.60 374.51,95.60 375.96,94.61 377.41,93.63 378.87,92.66 380.32,91.70 381.77,90.75 383.23,89.81 384.68,88.88 386.13,87.96 387.59,87.05 389.04,86.15 390.49,85.26 391.95,84.38 393.40,83.50 394.85,82.64 396.31,81.79 397.76,80.94 399.21,80.11 400.67,79.28 402.12,78.47 403.57,77.66 405.03,76.86 406.48,76.07 407.93,75.28 409.39,74.51 410.84,73.74 412.29,72.98 413.75,72.23 415.20,71.49 416.65,70.76 418.11,70.03 419.56,69.31 421.01,68.60 422.47,67.90 423.92,67.20 425.37,66.51 426.83,65.83 428.28,65.16 429.73,64.49 431.19,63.83 432.64,63.18 434.09,62.53 435.55,61.89 437.00,61.26" fill="none" stroke="#1a1a1a" stroke-width="0.7"/>
<polyline points="262.60,215.60 264.05,213.39 265.51,211.21 266.96,209.05 268.41,206.91 269.87,204.79 271.32,202.70 272.77,200.62 274.23,198.57 275.68,196.54 277.13,194.52 278.59,192.53 280.04,190.56 281.49,188.61 282.95,186.68 284.40,184.77 285.85,182.88 287.31,181.01 288.76,179.15 290.21,177.32 291.67,175.50 293.12,173.71 294.57,171.93 296.03,170.17 297.48,168.42 298.93,166.70 300.39,164.99 301.84,163.30 303.29,161.63 304.75,159.97 306.20,158.33 307.65,156.71 309.11,155.11 310.56,153.52 312.01,151.94 313.47,150.39 314.92,148.85 316.37,147.32 317.83,145.81 319.28,144.32 320.73,142.84 322.19,141.37 323.64,139.92 325.09,138.49 326.55,137.07 328.00,135.67 329.45,134.27 330.91,132.90 332.36,131.53 333.81,130.19 335.27,128.85 336.72,127.53 338.17,126.22 339.63,124.93 341.08,123.65 342.53,122.38 343.99,121.12 345.44,119.88 346.89,118.65 348.35,117.43 349.80,116.23 351.25,115.03 352.71,113.85 354.16,112.69 355.61,111.53 357.07,110.38 358.52,109.25 359.97,108.13 361.43,107.02 362.88,105.92 364.33,104.83 365.79,103.76 367.24,102.69 368.69,101.64 370.15,100.59 371.60,99.56 373.05,98.54 374.51,97.53 375.96,96.52 377.41,95.53 378.87,94.55 380.32,93.58 381.77,92.62 383.23,91.66 384.68,90.72 386.13,89.79 387.59,88.87 389.04,87.95 390.49,87.05 391.95,86.15 393.40,85.27 394.85,84.39 396.31,83.52 397.76,82.66 399.21,81.81 400.67,80.97 402.12,80.14 403.57,79.31 405.03,78.50 406.48,77.69 407.93,76.89 409.39,76.10 410.84,75.32 412.29,74.54 413.75,73.77 415.20,73.01 416.65,72.26 418.11,71.52 419.56,70.78 421.01,70.05 422.47,69.33 423.92,68.62 425.37,67.91 426.83,67.21 428.28,66.52 429.73,65.83 431.19,65.15 432.64,64.48 434.09,63.81 435.55,63.16 437.00,62.50" fill="none" stroke="#1a1a1a" stroke-width="0.7"/>
<polyline points="262.60,215.60 264.05,213.42 265.51,211.27 266.96,209.14 268.41,207.04 269.87,204.96 271.32,202.91 272.77,200.89 274.23,198.89 275.68,196.91 277.13,194.95 278.59,193.02 280.04,191.12 281.49,189.23 282.95,187.37 284.40,185.53 285.85,183.71 287.31,181.92 288.76,180.15 290.21,178.39 291.67,176.66 293.12,174.95 294.57,173.26 296.03,171.59 297.48,169.95 298.93,168.32 300.39,166.71 301.84,165.12 303.29,163.54 304.75,161.99 306.20,160.46 307.65,158.94 309.11,157.45 310.56,155.97 312.01,154.51 313.47,153.06 314.92,151.64 316.37,150.23 317.83,148.84 319.28,147.46 320.73,146.10 322.19,144.76 323.64,143.44 325.09,142.13 326.55,140.83 328.00,139.55 329.45,138.29 330.91,137.04 332.36,135.81 333.81,134.59 335.27,133.39 336.72,132.20 338.17,131.02 339.63,129.86 341.08,128.71 342.53,127.58 343.99,126.46 345.44,125.36 346.89,124.26 348.35,123.18 349.80,122.12 351.25,121.07 352.71,120.02 354.16,119.00 355.61,117.98 357.07,116.98 358.52,115.98 359.97,115.01 361.43,114.04 362.88,113.08 364.33,112.14 365.79,111.20 367.24,110.28 368.69,109.37 370.15,108.47 371.60,107.58 373.05,106.70 374.51,105.84 375.96,104.98 377.41,104.13 378.87,103.29 380.32,102.47 381.77,101.65 383.23,100.84 384.68,100.05 386.13,99.26 387.59,98.48 389.04,97.71 390.49,96.95 391.95,96.20 393.40,95.46 394.85,94.73 396.31,94.00 397.76,93.29 399.21,92.58 400.67,91.88 402.12,91.19 403.57,90.51 405.03,89.84 406.48,89.18 407.93,88.52 409.39,87.87 410.84,87.23 412.29,86.60 413.75,85.97 415.20,85.35 416.65,84.74 418.11,84.14 419.56,83.54 421.01,82.95 422.47,82.37 423.92,81.79 425.37,81.23 426.83,80.67 428.28,80.11 429.73,79.56 431.19,79.02 432.64,78.49 434.09,77.96 435.55,77.44 437.00,76.92" fill="none" stroke="#1a1a1a" stroke-width="0.7"/>
<polyline points="262.60,215.60 264.05,213.51 265.51,211.44 266.96,209.39 268.41,207.37 269.87,205.38 271.32,203.40 272.77,201.46 274.23,199.53 275.68,197.62 277.13,195.74 278.59,193.88 280.04,192.05 281.49,190.23 282.95,188.43 284.40,186.66 285.85,184.91 287.31,183.17 288.76,181.46 290.21,179.77 291.67,178.10 293.12,176.44 294.57,174.81 296.03,173.19 297.48,171.60 298.93,170.02 300.39,168.46 301.84,166.92 303.29,165.39 304.75,163.88 306.20,162.40 307.65,160.92 309.11,159.47 310.56,158.03 312.01,156.61 313.47,155.20 314.92,153.81 316.37,152.44 317.83,151.08 319.28,149.74 320.73,148.41 322.19,147.10 323.64,145.80 325.09,144.52 326.55,143.25 328.00,141.99 329.45,140.75 330.91,139.53 332.36,138.32 333.81,137.12 335.27,135.93 336.72,134.76 338.17,133.60 339.63,132.46 341.08,131.32 342.53,130.20 343.99,129.09 345.44,128.00 346.89,126.92 348.35,125.84 349.80,124.79 351.25,123.74 352.71,122.70 354.16,121.68 355.61,120.66 357.07,119.66 358.52,118.67 359.97,117.69 361.43,116.72 362.88,115.76 364.33,114.81 365.79,113.87 367.24,112.94 368.69,112.02 370.15,111.12 371.60,110.22 373.05,109.33 374.51,108.45 375.96,107.58 377.41,106.72 378.87,105.87 380.32,105.02 381.77,104.19 383.23,103.37 384.68,102.55 386.13,101.74 387.59,100.94 389.04,100.15 390.49,99.37 391.95,98.60 393.40,97.83 394.85,97.08 396.31,96.33 397.76,95.58 399.21,94.85 400.67,94.12 402.12,93.40 403.57,92.69 405.03,91.99 406.48,91.29 407.93,90.60 409.39,89.92 410.84,89.24 412.29,88.57 413.75,87.91 415.20,87.25 416.65,86.60 418.11,85.96 419.56,85.33 421.01,84.70 422.47,84.07 423.92,83.45 425.37,82.84 426.83,82.24 428.28,81.64 429.73,81.05 431.19,80.46 432.64,79.88 434.09,79.30 435.55,78.73 437.00,78.17" fill="none" stroke="#1a1a1a" stroke-width="0.7"/>
<polyline points="262.60,215.60 264.05,213.59 265.51,211.60 266.96,209.64 268.41,207.70 269.87,205.78 271.32,203.88 272.77,202.01 274.23,200.16 275.68,198.33 277.13,196.52 278.59,194.73 280.04,192.96 281.49,191.21 282.95,189.48 284.40,187.77 285.85,186.08 287.31,184.41 288.76,182.76 290.21,181.12 291.67,179.51 293.12,177.91 294.57,176.33 296.03,174.77 297.48,173.23 298.93,171.70 300.39,170.19 301.84,168.70 303.29,167.22 304.75,165.76 306.20,164.32 307.65,162.89 309.11,161.48 310.56,160.08 312.01,158.70 313.47,157.33 314.92,155.98 316.37,154.64 317.83,153.32 319.28,152.01 320.73,150.71 322.19,149.43 323.64,148.16 325.09,146.91 326.55,145.67 328.00,144.44 329.45,143.22 330.91,142.02 332.36,140.83 333.81,139.65 335.27,138.49 336.72,137.34 338.17,136.20 339.63,135.07 341.08,133.95 342.53,132.84 343.99,131.75 345.44,130.66 346.89,129.59 348.35,128.53 349.80,127.47 351.25,126.43 352.71,125.40 354.16,124.38 355.61,123.37 357.07,122.37 358.52,121.38 359.97,120.40 361.43,119.43 362.88,118.47 364.33,117.51 365.79,116.57 367.24,115.64 368.69,114.71 370.15,113.79 371.60,112.89 373.05,111.99 374.51,111.10 375.96,110.21 377.41,109.34 378.87,108.47 380.32,107.62 381.77,106.77 383.23,105.92 384.68,105.09 386.13,104.26 387.59,103.44 389.04,102.63 390.49,101.82 391.95,101.03 393.40,100.24 394.85,99.45 396.31,98.68 397.76,97.91 399.21,97.14 400.67,96.39 402.12,95.64 403.57,94.89 405.03,94.16 406.48,93.43 407.93,92.70 409.39,91.98 410.84,91.27 412.29,90.56 413.75,89.86 415.20,89.17 416.65,88.48 418.11,87.80 419.56,87.12 421.01,86.45 422.47,85.78 423.92,85.12 425.37,84.46 426.83,83.81 428.28,83.16 429.73,82.52 431.19,81.89 432.64,81.26 434.09,80.63 435.55,80.01 437.00,79.39" fill="none" stroke="#1a1a1a" stroke-width="0.7"/>
<polyline points="262.60,215.60 264.05,214.23 265.51,212.88 266.96,211.56 268.41,210.26 269.87,208.98 271.32,207.73 272.77,206.50 274.23,205.30 275.68,204.11 277.13,202.94 278.59,201.79 280.04,200.66 281.49,199.55 282.95,198.45 284.40,197.37 285.85,196.31 287.31,195.26 288.76,194.22 290.21,193.20 291.67,192.20 293.12,191.21 294.57,190.23 296.03,189.26 297.48,188.30 298.93,187.36 300.39,186.42 301.84,185.50 303.29,184.59 304.75,183.68 306.20,182.79 307.65,181.91 309.11,181.03 310.56,180.16 312.01,179.30 313.47,178.45 314.92,177.61 316.37,176.77 317.83,175.94 319.28,175.12 320.73,174.31 322.19,173.50 323.64,172.70 325.09,171.90 326.55,171.11 328.00,170.32 329.45,169.54 330.91,168.76 332.36,167.99 333.81,167.23 335.27,166.47 336.72,165.71 338.17,164.96 339.63,164.21 341.08,163.47 342.53,162.72 343.99,161.99 345.44,161.25 346.89,160.52 348.35,159.80 349.80,159.07 351.25,158.35 352.71,157.64 354.16,156.92 355.61,156.21 357.07,155.50 358.52,154.79 359.97,154.09 361.43,153.39 362.88,152.69 364.33,151.99 365.79,151.30 367.24,150.60 368.69,149.91 370.15,149.22 371.60,148.53 373.05,147.85 374.51,147.16 375.96,146.48 377.41,145.80 378.87,145.12 380.32,144.44 381.77,143.77 383.23,143.09 384.68,142.42 386.13,141.75 387.59,141.08 389.04,140.41 390.49,139.74 391.95,139.07 393.40,138.40 394.85,137.74 396.31,137.07 397.76,136.41 399.21,135.75 400.67,135.09 402.12,134.42 403.57,133.76 405.03,133.11 406.48,132.45 407.93,131.79 409.39,131.13 410.84,130.48 412.29,129.82 413.75,129.17 415.20,128.51 416.65,127.86 418.11,127.20 419.56,126.55 421.01,125.90 422.47,125.25 423.92,124.60 425.37,123.94 426.83,123.29 428.28,122.64 429.73,122.00 431.19,121.35 432.64,120.70 434.09,120.05 435.55,119.40 437.00,118.75" fill="none" stroke="#1a1a1a" stroke-width="0.7"/>
<polyline points="262.60,215.60 264.05,214.47 265.51,213.36 266.96,212.26 268.41,211.17 269.87,210.09 271.32,209.02 272.77,207.97 274.23,206.93 275.68,205.89 277.13,204.87 278.59,203.86 280.04,202.86 281.49,201.87 282.95,200.90 284.40,199.93 285.85,198.97 287.31,198.02 288.76,197.08 290.21,196.15 291.67,195.22 293.12,194.31 294.57,193.41 296.03,192.51 297.48,191.62 298.93,190.74 300.39,189.87 301.84,189.01 303.29,188.15 304.75,187.30 306.20,186.46 307.65,185.63 309.11,184.80 310.56,183.98 312.01,183.17 313.47,182.36 314.92,181.57 316.37,180.77 317.83,179.99 319.28,179.21 320.73,178.43 322.19,177.66 323.64,176.90 325.09,176.15 326.55,175.40 328.00,174.65 329.45,173.91 330.91,173.18 332.36,172.45 333.81,171.72 335.27,171.01 336.72,170.29 338.17,169.58 339.63,168.88 341.08,168.18 342.53,167.48 343.99,166.79 345.44,166.11 346.89,165.43 348.35,164.75 349.80,164.08 351.25,163.41 352.71,162.74 354.16,162.08 355.61,161.42 357.07,160.77 358.52,160.12 359.97,159.47 361.43,158.83 362.88,158.19 364.33,157.56 365.79,156.92 367.24,156.29 368.69,155.67 370.15,155.04 371.60,154.43 373.05,153.81 374.51,153.20 375.96,152.58 377.41,151.98 378.87,151.37 380.32,150.77 381.77,150.17 383.23,149.57 384.68,148.98 386.13,148.39 387.59,147.80 389.04,147.21 390.49,146.63 391.95,146.05 393.40,145.47 394.85,144.89 396.31,144.31 397.76,143.74 399.21,143.17 400.67,142.60 402.12,142.04 403.57,141.47 405.03,140.91 406.48,140.35 407.93,139.79 409.39,139.23 410.84,138.68 412.29,138.13 413.75,137.57 415.20,137.02 416.65,136.48 418.11,135.93 419.56,135.39 421.01,134.84 422.47,134.30 423.92,133.76 425.37,133.22 426.83,132.69 428.28,132.15 429.73,131.62 431.19,131.09 432.64,130.56 434.09,130.03 435.55,129.50 437.00,128.97" fill="none" stroke="#1a1a1a" stroke-width="0.7"/>
<circle cx="269.87" cy="208.96" r="2.12" fill="#fff" stroke="#333" stroke-width="0.55"/>
<circle cx="269.87" cy="203.44" r="2.17" fill="#111"/>
<circle cx="269.87" cy="202.06" r="2.17" fill="#111"/>
<path d="M269.87,198.72L272.33,201.18L269.87,203.65L267.40,201.18Z" fill="#fff" stroke="#333" stroke-width="0.55"/>
<circle cx="269.87" cy="200.06" r="2.17" fill="#111"/>
<path d="M269.87,194.50L272.42,197.05L269.87,199.60L267.32,197.05Z" fill="#111"/>
<path d="M269.87,191.49L272.42,194.04L269.87,196.59L267.32,194.04Z" fill="#111"/>
<circle cx="277.13" cy="201.81" r="2.12" fill="#fff" stroke="#333" stroke-width="0.55"/>
<circle cx="277.13" cy="203.06" r="2.12" fill="#fff" stroke="#333" stroke-width="0.55"/>
<circle cx="277.13" cy="196.04" r="2.17" fill="#111"/>
<circle cx="277.13" cy="194.29" r="2.17" fill="#111"/>
<path d="M277.13,190.57L279.60,193.04L277.13,195.50L274.67,193.04Z" fill="#fff" stroke="#333" stroke-width="0.55"/>
<circle cx="277.13" cy="192.03" r="2.17" fill="#111"/>
<path d="M277.13,180.46L279.68,183.01L277.13,185.56L274.58,183.01Z" fill="#111"/>
<path d="M277.13,176.70L279.68,179.25L277.13,181.80L274.58,179.25Z" fill="#111"/>
<circle cx="284.40" cy="196.55" r="2.12" fill="#fff" stroke="#333" stroke-width="0.55"/>
<circle cx="284.40" cy="198.05" r="2.12" fill="#fff" stroke="#333" stroke-width="0.55"/>
<circle cx="284.40" cy="187.02" r="2.17" fill="#111"/>
<circle cx="284.40" cy="185.51" r="2.17" fill="#111"/>
<path d="M284.40,181.79L286.87,184.26L284.40,186.72L281.94,184.26Z" fill="#fff" stroke="#333" stroke-width="0.55"/>
<circle cx="284.40" cy="183.01" r="2.17" fill="#111"/>
<path d="M284.40,169.17L286.95,171.72L284.40,174.27L281.85,171.72Z" fill="#111"/>
<path d="M284.40,164.79L286.95,167.34L284.40,169.89L281.85,167.34Z" fill="#111"/>
<circle cx="291.67" cy="193.66" r="2.12" fill="#fff" stroke="#333" stroke-width="0.55"/>
<circle cx="291.67" cy="191.28" r="2.12" fill="#fff" stroke="#333" stroke-width="0.55"/>
<circle cx="291.67" cy="182.00" r="2.17" fill="#111"/>
<circle cx="291.67" cy="180.25" r="2.17" fill="#111"/>
<path d="M291.67,176.15L294.13,178.62L291.67,181.08L289.20,178.62Z" fill="#fff" stroke="#333" stroke-width="0.55"/>
<circle cx="291.67" cy="177.37" r="2.17" fill="#111"/>
<path d="M291.67,160.02L294.22,162.57L291.67,165.12L289.12,162.57Z" fill="#111"/>
<path d="M291.67,157.39L294.22,159.94L291.67,162.49L289.12,159.94Z" fill="#111"/>
<circle cx="320.73" cy="179.25" r="2.12" fill="#fff" stroke="#333" stroke-width="0.55"/>
<circle cx="320.73" cy="172.98" r="2.12" fill="#fff" stroke="#333" stroke-width="0.55"/>
<circle cx="320.73" cy="150.91" r="2.17" fill="#111"/>
<circle cx="320.73" cy="147.91" r="2.17" fill="#111"/>
<circle cx="320.73" cy="144.77" r="2.17" fill="#111"/>
<circle cx="320.73" cy="141.01" r="2.17" fill="#111"/>
<path d="M320.73,135.91L323.20,138.38L320.73,140.84L318.27,138.38Z" fill="#fff" stroke="#333" stroke-width="0.55"/>
<path d="M320.73,125.17L323.28,127.72L320.73,130.27L318.18,127.72Z" fill="#111"/>
<path d="M320.73,115.14L323.28,117.69L320.73,120.24L318.18,117.69Z" fill="#111"/>
<circle cx="378.87" cy="150.91" r="2.12" fill="#fff" stroke="#333" stroke-width="0.55"/>
<circle cx="378.87" cy="146.03" r="2.12" fill="#fff" stroke="#333" stroke-width="0.55"/>
<circle cx="378.87" cy="108.67" r="2.17" fill="#111"/>
<circle cx="378.87" cy="105.91" r="2.17" fill="#111"/>
<circle cx="378.87" cy="103.03" r="2.17" fill="#111"/>
<path d="M378.87,93.29L381.33,95.76L378.87,98.22L376.40,95.76Z" fill="#fff" stroke="#333" stroke-width="0.55"/>
<circle cx="378.87" cy="92.00" r="2.17" fill="#111"/>
<circle cx="378.87" cy="88.99" r="2.17" fill="#111"/>
<circle cx="378.87" cy="85.98" r="2.17" fill="#111"/>
<path d="M378.87,73.65L381.42,76.20L378.87,78.75L376.32,76.20Z" fill="#111"/>
<circle cx="437.00" cy="129.10" r="2.12" fill="#fff" stroke="#333" stroke-width="0.55"/>
<circle cx="437.00" cy="118.45" r="2.12" fill="#fff" stroke="#333" stroke-width="0.55"/>
<circle cx="437.00" cy="81.46" r="2.17" fill="#111"/>
<circle cx="437.00" cy="78.96" r="2.17" fill="#111"/>
<path d="M437.00,74.78L439.55,77.33L437.00,79.88L434.45,77.33Z" fill="#111"/>
<circle cx="437.00" cy="65.17" r="2.17" fill="#111"/>
<circle cx="437.00" cy="63.29" r="2.17" fill="#111"/>
<circle cx="437.00" cy="61.16" r="2.17" fill="#111"/>
<path d="M437.00,56.43L439.46,58.90L437.00,61.36L434.54,58.90Z" fill="#fff" stroke="#333" stroke-width="0.55"/>
<path d="M437.00,50.58L439.55,53.13L437.00,55.68L434.45,53.13Z" fill="#111"/>
<path d="M437.00,40.43L439.55,42.98L437.00,45.53L434.45,42.98Z" fill="#111"/>
<circle cx="262.60" cy="215.60" r="2.42" fill="#111"/>
<text transform="translate(453.90,11.70) scale(1,1.02)" font-size="12.8" font-weight="normal" text-anchor="start" fill="#222">c</text>
<rect x="579.2" y="4.4" width="4.8" height="4.8" fill="#111"/>
<text transform="translate(586.60,9.90) scale(1,0.98)" font-size="8.85" font-weight="bold" text-anchor="start" fill="#1a1a1a">Basal</text>
<rect x="617.4" y="4.7" width="4.4" height="4.4" fill="#fff" stroke="#333" stroke-width="0.7"/>
<text transform="translate(624.60,9.90) scale(1,0.98)" font-size="8.8" font-weight="bold" text-anchor="start" fill="#1a1a1a">CL-stimulated</text>
<text transform="translate(549.60,24.10) scale(1,1.045)" font-size="8.0" font-weight="bold" text-anchor="start" fill="#1a1a1a"><tspan font-family="Liberation Serif" font-weight="normal" fill="#555">Δ</tspan>CT6</text>
<text transform="translate(583.30,24.10) scale(1,1.045)" font-size="8.0" font-weight="bold" text-anchor="start" fill="#1a1a1a">7.9 ± 0.1</text>
<text transform="translate(630.70,24.10) scale(1,1.045)" font-size="8.0" font-weight="bold" text-anchor="start" fill="#1a1a1a">47.2 ± 1.8</text>
<text transform="translate(549.60,39.20) scale(1,1.045)" font-size="8.0" font-weight="bold" text-anchor="start" fill="#1a1a1a"><tspan font-family="Liberation Serif" font-weight="normal" fill="#555">Δ</tspan>CT4</text>
<text transform="translate(583.30,39.20) scale(1,1.045)" font-size="8.0" font-weight="bold" text-anchor="start" fill="#1a1a1a">7.3 ± 0.1</text>
<text transform="translate(630.70,39.20) scale(1,1.045)" font-size="8.0" font-weight="bold" text-anchor="start" fill="#1a1a1a">36.9 ± 0.3</text>
<text transform="translate(550.30,55.20) scale(1,1.045)" font-size="8.0" font-weight="bold" text-anchor="start" fill="#1a1a1a">WT</text>
<text transform="translate(583.30,55.20) scale(1,1.045)" font-size="8.0" font-weight="bold" text-anchor="start" fill="#1a1a1a">2.4 ± 0.1</text>
<text transform="translate(630.70,55.20) scale(1,1.045)" font-size="8.0" font-weight="bold" text-anchor="start" fill="#1a1a1a">32.2 ± 0.5</text>
<text transform="translate(550.30,70.60) scale(1,1.045)" font-size="8.0" font-weight="bold" text-anchor="start" fill="#1a1a1a">CT+</text>
<text transform="translate(583.30,70.60) scale(1,1.045)" font-size="8.0" font-weight="bold" text-anchor="start" fill="#1a1a1a">1.9 ± 0.0</text>
<text transform="translate(630.70,70.60) scale(1,1.045)" font-size="8.0" font-weight="bold" text-anchor="start" fill="#1a1a1a">18.8 ± 0.8</text>
<path d="M497.5,38.90V215.4" fill="none" stroke="#555" stroke-width="0.8"/>
<path d="M497.2,215.4H675.0" fill="none" stroke="#555" stroke-width="0.8"/>
<path d="M497.5,215.40h3" stroke="#555" stroke-width="0.6"/>
<text transform="translate(493.80,218.15) scale(1,1.045)" font-size="7.8" font-weight="bold" text-anchor="end" fill="#1a1a1a">0</text>
<path d="M497.5,180.10h3" stroke="#555" stroke-width="0.6"/>
<text transform="translate(493.80,182.85) scale(1,1.045)" font-size="7.8" font-weight="bold" text-anchor="end" fill="#1a1a1a">10</text>
<path d="M497.5,144.80h3" stroke="#555" stroke-width="0.6"/>
<text transform="translate(493.80,147.55) scale(1,1.045)" font-size="7.8" font-weight="bold" text-anchor="end" fill="#1a1a1a">20</text>
<path d="M497.5,109.50h3" stroke="#555" stroke-width="0.6"/>
<text transform="translate(493.80,112.25) scale(1,1.045)" font-size="7.8" font-weight="bold" text-anchor="end" fill="#1a1a1a">30</text>
<path d="M497.5,74.20h3" stroke="#555" stroke-width="0.6"/>
<text transform="translate(493.80,76.95) scale(1,1.045)" font-size="7.8" font-weight="bold" text-anchor="end" fill="#1a1a1a">40</text>
<path d="M497.5,38.90h3" stroke="#555" stroke-width="0.6"/>
<text transform="translate(493.80,41.65) scale(1,1.045)" font-size="7.8" font-weight="bold" text-anchor="end" fill="#1a1a1a">50</text>
<rect x="501.99" y="187.87" width="17.5" height="27.53" fill="#231f20"/>
<rect x="519.49" y="48.78" width="18.0" height="166.62" fill="#fff" stroke="#3a3a3a" stroke-width="0.8"/>
<circle cx="510.69" cy="187.51" r="1.8" fill="#fff" stroke="#222" stroke-width="0.6"/>
<circle cx="528.49" cy="42.43" r="2.2" fill="#111"/>
<circle cx="528.49" cy="54.79" r="2.2" fill="#111"/>
<text transform="translate(519.49,226.00) scale(1,1.045)" font-size="8.0" font-weight="bold" text-anchor="middle" fill="#1a1a1a"><tspan font-family="Liberation Serif" font-weight="normal" fill="#555">Δ</tspan>CT6</text>
<rect x="546.36" y="189.63" width="17.5" height="25.77" fill="#231f20"/>
<rect x="563.86" y="85.14" width="18.0" height="130.26" fill="#fff" stroke="#3a3a3a" stroke-width="0.8"/>
<path d="M541.88,215.4v-3" stroke="#555" stroke-width="0.6"/>
<circle cx="555.06" cy="189.28" r="1.8" fill="#fff" stroke="#222" stroke-width="0.6"/>
<circle cx="572.86" cy="83.03" r="2.2" fill="#111"/>
<circle cx="572.86" cy="86.20" r="2.2" fill="#111"/>
<text transform="translate(563.86,226.00) scale(1,1.045)" font-size="8.0" font-weight="bold" text-anchor="middle" fill="#1a1a1a"><tspan font-family="Liberation Serif" font-weight="normal" fill="#555">Δ</tspan>CT4</text>
<rect x="590.74" y="208.34" width="17.5" height="7.06" fill="#231f20"/>
<rect x="608.24" y="101.73" width="18.0" height="113.67" fill="#fff" stroke="#3a3a3a" stroke-width="0.8"/>
<path d="M586.25,215.4v-3" stroke="#555" stroke-width="0.6"/>
<circle cx="599.44" cy="206.58" r="1.8" fill="#fff" stroke="#222" stroke-width="0.6"/>
<circle cx="617.24" cy="97.15" r="2.2" fill="#111"/>
<circle cx="617.24" cy="102.79" r="2.2" fill="#111"/>
<circle cx="617.24" cy="104.91" r="2.2" fill="#111"/>
<text transform="translate(608.24,226.00) scale(1,1.045)" font-size="8.0" font-weight="bold" text-anchor="middle" fill="#1a1a1a">WT</text>
<rect x="635.11" y="209.05" width="17.5" height="6.35" fill="#231f20"/>
<rect x="652.61" y="149.04" width="18.0" height="66.36" fill="#fff" stroke="#3a3a3a" stroke-width="0.8"/>
<path d="M630.62,215.4v-3" stroke="#555" stroke-width="0.6"/>
<circle cx="643.81" cy="208.34" r="1.8" fill="#fff" stroke="#222" stroke-width="0.6"/>
<circle cx="661.61" cy="145.86" r="2.2" fill="#111"/>
<circle cx="661.61" cy="152.21" r="2.2" fill="#111"/>
<text transform="translate(652.61,226.00) scale(1,1.045)" font-size="8.0" font-weight="bold" text-anchor="middle" fill="#1a1a1a">CT+</text>
<path d="M675.0,215.4v-3" stroke="#555" stroke-width="0.6"/>
<text transform="translate(461.60,168.70) rotate(-90) scale(1,1.045)" font-size="8.6" font-weight="bold" text-anchor="start" fill="#1a1a1a">Burst phase kinetics</text>
<text transform="translate(476.30,143.30) rotate(-90) scale(1,1.045)" font-size="8.6" font-weight="bold" text-anchor="start" fill="#1a1a1a">k<tspan font-size="5.4" dy="3.6">cat</tspan><tspan dy="-3.6"> (min</tspan><tspan font-size="5.0" dy="-3.9">-1</tspan><tspan dy="3.9">)</tspan></text>
</g>
</svg></body></html>
